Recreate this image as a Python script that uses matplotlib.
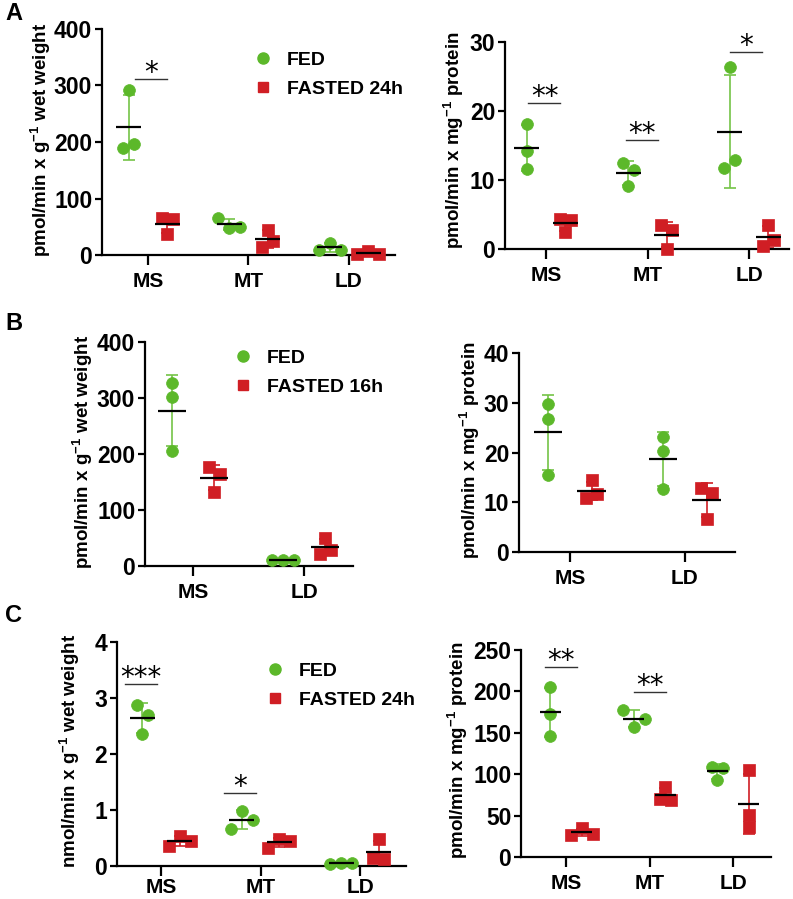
import numpy as np
import matplotlib
matplotlib.use('Agg')
import matplotlib.pyplot as plt
from matplotlib.lines import Line2D

plt.rcParams['font.family'] = ['Liberation Sans', 'DejaVu Sans']
plt.rcParams['font.weight'] = 'bold'
plt.rcParams['mathtext.fontset'] = 'custom'
plt.rcParams['mathtext.rm'] = 'Liberation Sans:bold'
plt.rcParams['mathtext.it'] = 'Liberation Sans:bold'
plt.rcParams['mathtext.bf'] = 'Liberation Sans:bold'
plt.rcParams['axes.unicode_minus'] = False

# ---- data (3 animals per group) ----
tissues3 = ['MS', 'MT', 'LD']
tissues2 = ['MS', 'LD']

a_ww_fed = [[292, 190, 196], [65, 47, 50], [9, 22, 9]]
a_ww_fast = [[66, 37, 63], [45, 14, 24], [1, 7, 2]]
a_pr_fed = [[18.1, 14.2, 11.6], [12.4, 11.5, 9.1], [26.4, 11.7, 12.9]]
a_pr_fast = [[4.4, 4.2, 2.5], [3.5, 2.8, 0.0], [3.5, 0.5, 1.25]]

b_ww_fed = [[327, 301, 205], [11, 11, 11]]
b_ww_fast = [[177, 133, 164], [50, 22, 29]]
b_pr_fed = [[29.8, 26.8, 15.5], [23.1, 20.4, 12.7]]
b_pr_fast = [[14.4, 10.9, 11.7], [12.9, 11.9, 6.6]]

c_ww_fed = [[2.87, 2.70, 2.35], [0.66, 0.99, 0.83], [0.04, 0.05, 0.05]]
c_ww_fast = [[0.36, 0.54, 0.45], [0.33, 0.49, 0.45], [0.48, 0.14, 0.13]]
c_pr_fed = [[205.6, 172.6, 146.4], [177, 157, 167], [109, 93, 108]]
c_pr_fast = [[26.5, 35, 28], [70, 85, 69], [104.8, 51, 36]]

# significance: (tissue index, bar height, stars)
a_ww_sig = [(0, 312, '*')]
a_pr_sig = [(0, 21.1, '**'), (1, 15.85, '**'), (2, 28.6, '*')]
c_ww_sig = [(0, 3.25, '***'), (1, 1.31, '*')]
c_pr_sig = [(0, 229.8, '**'), (1, 199.6, '**')]

GREEN = '#5cb82a'
GREEN_BAR = '#74c447'
RED = '#d01e24'
W, H = 793, 899

fig = plt.figure(figsize=(W / 100, H / 100), dpi=100)

ww_label = r'pmol/min x g$^{-1}$ wet weight'
pr_label = r'pmol/min x mg$^{-1}$ protein'
nww_label = r'nmol/min x g$^{-1}$ wet weight'

# panel layout in pixels: left, right, top, bottom
panels = [
    dict(px=(102, 395, 29, 255), xlim=(-0.458, 2.458), ylim=(0, 400), yt=np.arange(0, 401, 100),
         cats=tissues3, fed=a_ww_fed, fast=a_ww_fast, ylab=ww_label, lab=(-0.166, 0.51),
         sig=a_ww_sig, sig_shift=[0.03], leg=('FASTED 24h', 263, 61), xpad=5),
    dict(px=(505, 789, 42, 249), xlim=(-0.404, 2.394), ylim=(0, 30), yt=np.arange(0, 31, 10),
         cats=tissues3, fed=a_pr_fed, fast=a_pr_fast, ylab=pr_label, lab=(-0.137, 0.527),
         sig=a_pr_sig, sig_shift=[-0.015, -0.055, -0.03], leg=None, xpad=5),
    dict(px=(145, 353, 342, 566), xlim=(-0.432, 1.441), ylim=(0, 400), yt=np.arange(0, 401, 100),
         cats=tissues2, fed=b_ww_fed, fast=b_ww_fast, ylab=ww_label, lab=(-0.24, 0.51),
         sig=[], sig_shift=[], leg=('FASTED 16h', 243, 359), xpad=5),
    dict(px=(519, 735, 353, 552), xlim=(-0.443, 1.435), ylim=(0, 40), yt=np.arange(0, 41, 10),
         cats=tissues2, fed=b_pr_fed, fast=b_pr_fast, ylab=pr_label, lab=(-0.171, 0.51),
         sig=[], sig_shift=[], leg=None, xpad=5),
    dict(px=(117, 406, 642, 866), xlim=(-0.442, 2.462), ylim=(0, 4), yt=np.arange(0, 5, 1),
         cats=tissues3, fed=c_ww_fed, fast=c_ww_fast, ylab=nww_label, lab=(-0.121, 0.513),
         sig=c_ww_sig, sig_shift=[-0.2, -0.21], leg=('FASTED 24h', 275, 672), xpad=1.5),
    dict(px=(521, 771, 650, 857), xlim=(-0.539, 2.455), ylim=(0, 250), yt=np.arange(0, 251, 50),
         cats=tissues3, fed=c_pr_fed, fast=c_pr_fast, ylab=pr_label, lab=(-0.204, 0.516),
         sig=c_pr_sig, sig_shift=[-0.065, 0.0], leg=None, xpad=5),
]


def spread(vals, thr, step):
    # push overlapping points apart horizontally, keeping list order left->right
    vals = np.asarray(vals, dtype=float)
    order = np.argsort(vals, kind='stable')
    groups, cur = [], [order[0]]
    for a, b in zip(order[:-1], order[1:]):
        if vals[b] - vals[a] < thr:
            cur.append(b)
        else:
            groups.append(cur)
            cur = [b]
    groups.append(cur)
    off = np.zeros(len(vals))
    for g in groups:
        g = sorted(g)
        for k, i in enumerate(g):
            off[i] = (k - (len(g) - 1) / 2) * step
    return off


for p in panels:
    l, r, t, b = p['px']
    ax = fig.add_axes([l / W, 1 - b / H, (r - l) / W, (b - t) / H])
    ax.set_xlim(*p['xlim'])
    ax.set_ylim(*p['ylim'])
    px_y = (b - t) / (p['ylim'][1] - p['ylim'][0])
    px_x = (r - l) / (p['xlim'][1] - p['xlim'][0])
    thr = 11 / px_y
    step = 11 / px_x

    for groups, dx, col, bar_col, mk, ms in [(p['fed'], -0.19, GREEN, GREEN_BAR, 'o', 8.5),
                                              (p['fast'], 0.19, RED, RED, 's', 8)]:
        for i, vals in enumerate(groups):
            xc = i + dx
            m = np.mean(vals)
            sd = np.std(vals, ddof=1)
            ax.errorbar([xc], [m], yerr=[sd], fmt='none', ecolor=bar_col, elinewidth=1.2,
                        capsize=4.5, capthick=1.2, zorder=2, clip_on=False)
            xs = xc + spread(vals, thr, step)
            ax.plot(xs, vals, mk, color=col, ms=ms, mec=col, mew=0.5, zorder=3, clip_on=False)
            ax.plot([xc - 0.125, xc + 0.125], [m, m], color='black', lw=1.6, zorder=4,
                    solid_capstyle='butt', clip_on=False)

    for (i, y, stars), sh in zip(p['sig'], p['sig_shift']):
        half = 16 / px_x
        ax.plot([i + sh - half, i + sh + half], [y, y], color='#333333', lw=1.0, clip_on=False)
        ax.text(i + sh, y - 2 / px_y, stars, ha='center', va='baseline', fontsize=20,
                family='DejaVu Sans', fontweight='normal', clip_on=False)

    ax.set_xticks(range(len(p['cats'])))
    ax.set_xticklabels(p['cats'], fontsize=15, fontweight='bold')
    ax.set_yticks(p['yt'])
    ax.set_yticklabels([str(v) for v in p['yt']], fontsize=16.5, fontweight='bold')
    ax.tick_params(axis='y', length=5, width=1.6, pad=2)
    ax.tick_params(axis='x', length=7, width=1.6, pad=p['xpad'])
    for s in ['top', 'right']:
        ax.spines[s].set_visible(False)
    for s in ['left', 'bottom']:
        ax.spines[s].set_linewidth(1.6)
    ax.set_ylabel(p['ylab'], fontsize=13.5, fontweight='bold')
    ax.yaxis.set_label_coords(*p['lab'])

    if p['leg'] is not None:
        fast_name, mx, my = p['leg']
        fs = 14
        fs_px = fs / 72 * 100
        handles = [Line2D([], [], ls='none', marker='o', color=GREEN, ms=8),
                   Line2D([], [], ls='none', marker='s', color=RED, ms=7.5)]
        ax.legend(handles, ['FED', fast_name], loc='upper left',
                  bbox_to_anchor=((mx - 0.5 * fs_px) / W, 1 - (my - 10) / H),
                  bbox_transform=fig.transFigure, frameon=False, borderpad=0,
                  borderaxespad=0, handlelength=1.0, handletextpad=0.74,
                  labelspacing=0.62, prop=dict(size=fs, weight='bold'))

for letter, y in [('A', 20), ('B', 330), ('C', 622)]:
    fig.text(5 / W, 1 - y / H, letter, fontsize=17, fontweight='bold', va='baseline', ha='left')

fig.savefig('out.png', dpi=100)
